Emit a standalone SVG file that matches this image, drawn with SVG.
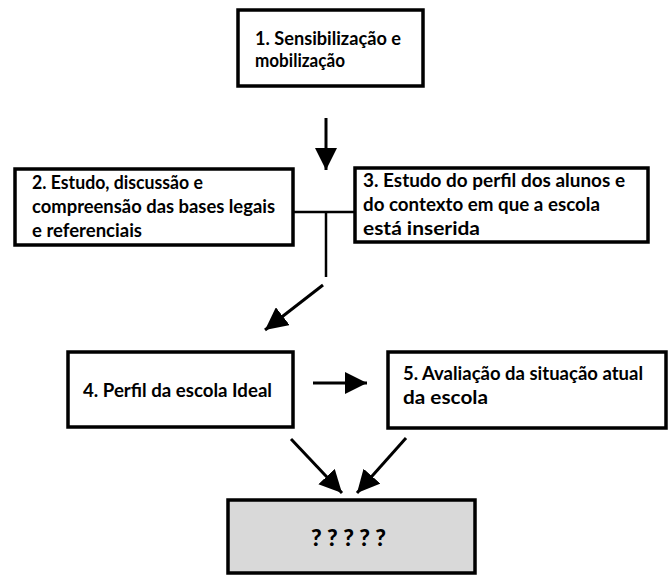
<svg xmlns="http://www.w3.org/2000/svg" width="669" height="575" viewBox="0 0 669 575">
<defs>
<style>
.box{fill:#ffffff;stroke:#000000;stroke-width:3.5}
.gray{fill:#d9d9d9;stroke:#000000;stroke-width:3.5}
.t{font-family:Lato,"Liberation Sans",sans-serif;font-weight:bold;font-size:18px;fill:#000000}
.q{font-family:Lato,"Liberation Sans",sans-serif;font-weight:900;font-size:23px;fill:#000000}
.ln{stroke:#000000;stroke-width:3;fill:none}
.lnthin{stroke:#000000;stroke-width:2.5;fill:none}
</style>
<marker id="ah" viewBox="0 0 10 10" refX="10" refY="5" markerWidth="7.5" markerHeight="7.5" markerUnits="strokeWidth" orient="auto">
<path d="M0,0 L10,5 L0,10 Z" fill="#000000"/>
</marker>
</defs>
<rect width="669" height="575" fill="#ffffff"/>
<g id="connectors">
<line class="ln" x1="326" y1="118" x2="326" y2="170" marker-end="url(#ah)"/>
<line class="lnthin" x1="293" y1="212" x2="355" y2="212"/>
<line class="lnthin" x1="326" y1="212" x2="326" y2="277"/>
<line class="ln" x1="323" y1="285" x2="265" y2="330" marker-end="url(#ah)"/>
<line class="ln" x1="313" y1="383" x2="367" y2="383" marker-end="url(#ah)"/>
<line class="ln" x1="291" y1="439" x2="342" y2="493" marker-end="url(#ah)"/>
<line class="ln" x1="406" y1="438" x2="357" y2="493" marker-end="url(#ah)"/>
</g>
<g id="node1">
<rect class="box" x="238" y="10" width="185" height="76"/>
<text class="t" x="255" y="45" textLength="146" lengthAdjust="spacingAndGlyphs">1. Sensibilização e</text>
<text class="t" x="255" y="67" textLength="90" lengthAdjust="spacingAndGlyphs">mobilização</text>
</g>
<g id="node2">
<rect class="box" x="15" y="169" width="278" height="76"/>
<text class="t" x="32" y="189" textLength="171" lengthAdjust="spacingAndGlyphs">2. Estudo, discussão e</text>
<text class="t" x="32" y="213" textLength="243" lengthAdjust="spacingAndGlyphs">compreensão das bases legais</text>
<text class="t" x="32" y="237" textLength="110" lengthAdjust="spacingAndGlyphs">e referenciais</text>
</g>
<g id="node3">
<rect class="box" x="355" y="168" width="293" height="74"/>
<text class="t" x="363" y="187" textLength="262" lengthAdjust="spacingAndGlyphs">3. Estudo do perfil dos alunos e</text>
<text class="t" x="363" y="211" textLength="237" lengthAdjust="spacingAndGlyphs">do contexto em que a escola</text>
<text class="t" x="363" y="235" textLength="117" lengthAdjust="spacingAndGlyphs">está inserida</text>
</g>
<g id="node4">
<rect class="box" x="68" y="352" width="225" height="75"/>
<text class="t" x="83" y="397" textLength="189" lengthAdjust="spacingAndGlyphs">4. Perfil da escola Ideal</text>
</g>
<g id="node5">
<rect class="box" x="388" y="352" width="278" height="76"/>
<text class="t" x="403" y="380" textLength="240" lengthAdjust="spacingAndGlyphs">5. Avaliação da situação atual</text>
<text class="t" x="403" y="404" textLength="85" lengthAdjust="spacingAndGlyphs">da escola</text>
</g>
<g id="node6">
<rect class="gray" x="228" y="500" width="247" height="73"/>
<text class="q" x="311" y="546" textLength="75" lengthAdjust="spacing">?????</text>
</g>
</svg>
